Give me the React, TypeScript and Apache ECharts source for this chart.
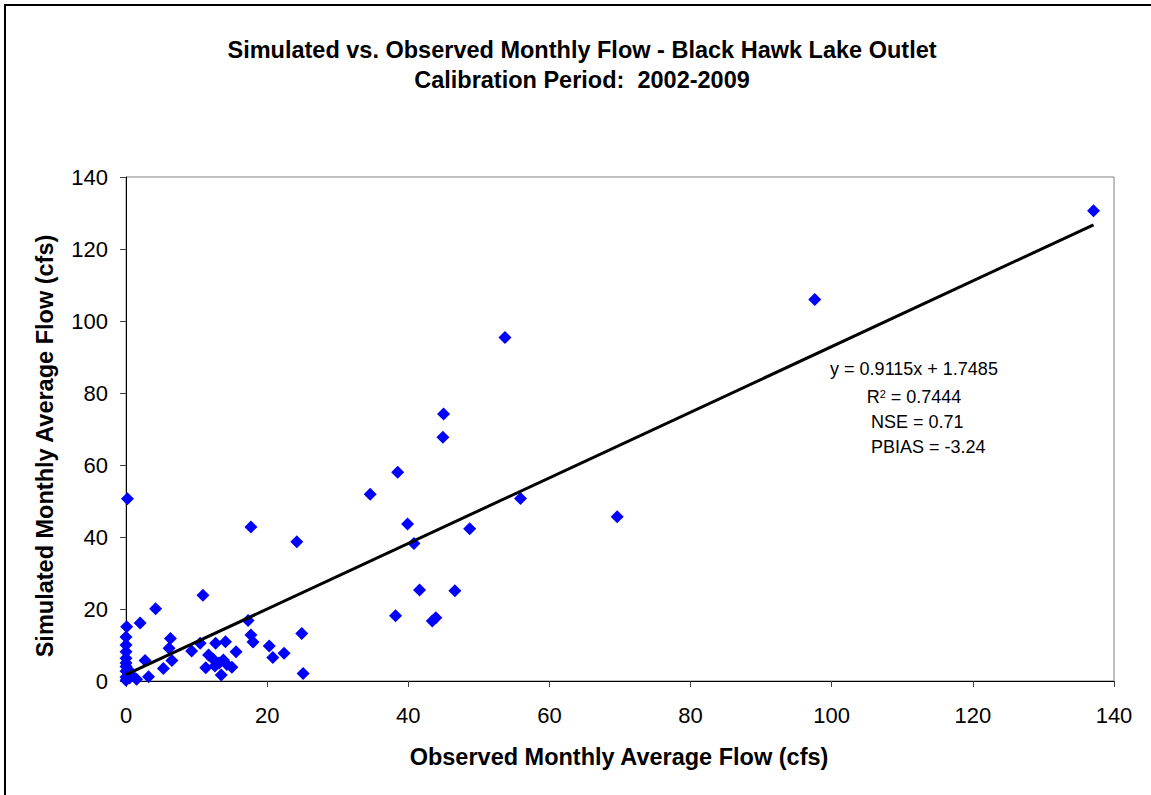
import React, { useEffect, useRef } from "react";
import * as echarts from "echarts";

const observed = [
  137.1, 97.6, 53.7, 45.0, 44.9, 38.5, 34.6, 55.9, 69.6, 39.9, 48.7, 40.8, 41.6, 46.6, 38.2, 43.9, 43.4,
  24.2, 24.9, 25.1, 0.2, 17.7, 10.9, 4.2, 2.0, 0.1, 17.3, 17.7, 18.0, 20.3, 20.8, 22.4, 6.3, 6.1, 6.5,
  5.3, 2.7, 3.2, 1.5, 0.8, 9.3, 10.5, 12.7, 14.1, 15.6, 11.7, 12.4, 13.2, 13.8, 12.6, 14.3, 11.3, 15.0,
  13.5, 0, 0, 0, 0, 0, 0, 0, 0, 0, 0.3, 0.5,
];
const simulated = [
  130.6, 106.0, 95.4, 74.2, 67.7, 58.0, 51.9, 50.7, 45.6, 43.6, 42.3, 38.2, 25.3, 25.1, 18.1, 17.6, 16.7,
  38.7, 13.2, 2.1, 50.6, 42.8, 23.8, 20.1, 16.1, 15.1, 16.8, 12.8, 10.8, 9.7, 6.5, 7.7, 11.8, 9.1, 5.7,
  3.5, 5.7, 1.2, 0.5, 1.7, 8.3, 10.5, 10.5, 10.9, 8.1, 7.2, 6.0, 5.0, 5.8, 4.2, 4.6, 3.7, 3.8,
  1.7, 12.2, 10.0, 8.1, 6.3, 5.0, 4.0, 2.7, 1.1, 0.2, 3.2, 0.8,
];

const trendSlope = 0.9115;
const trendIntercept = 1.7485;
const trendXRange = [0, 137.1];

const titleLines = [
  "Simulated vs. Observed Monthly Flow - Black Hawk Lake Outlet",
  "Calibration Period:  2002-2009",
];
const xTitle = "Observed Monthly Average Flow (cfs)";
const yTitle = "Simulated Monthly Average Flow (cfs)";
const statsLines = ["y = 0.9115x + 1.7485", "R2 = 0.7444", "NSE = 0.71", "PBIAS = -3.24"];

const FONT = 'Arial, "Liberation Sans", sans-serif';
const TITLE_FONT = `bold 23.5px ${FONT}`;

export default function App() {
  const ref = useRef<HTMLDivElement>(null);
  useEffect(() => {
    if (!ref.current) return;
    const chart = echarts.init(ref.current, null, { renderer: "svg" });
    const points = observed.map((x, i) => [x, simulated[i]]);
    const trend = trendXRange.map((x) => [x, trendSlope * x + trendIntercept]);
    const axisCommon = {
      type: "value" as const,
      min: 0,
      max: 140,
      interval: 20,
      splitLine: { show: false },
      axisLine: { show: true, lineStyle: { color: "#000", width: 1 } },
      axisTick: { show: true, length: 6, lineStyle: { color: "#404040" } },
    };
    chart.setOption({
      animation: false,
      backgroundColor: "#fff",
      grid: {
        left: 126,
        right: 37,
        top: 177,
        bottom: 114,
        show: true,
        borderColor: "#808080",
        borderWidth: 1,
        backgroundColor: "transparent",
      },
      xAxis: {
        ...axisCommon,
        axisLabel: { fontSize: 22, color: "#000", fontFamily: FONT, margin: 23 },
      },
      yAxis: {
        ...axisCommon,
        axisLabel: { fontSize: 22, color: "#000", fontFamily: FONT, margin: 18 },
      },
      series: [
        {
          type: "scatter",
          data: points,
          symbol: "diamond",
          symbolSize: 13,
          itemStyle: { color: "#0000FF", opacity: 1 },
          z: 2,
        },
        {
          type: "line",
          data: trend,
          symbol: "none",
          lineStyle: { color: "#000", width: 3 },
          z: 3,
        },
      ],
      graphic: [
        {
          type: "rect",
          shape: { x: 5, y: 5, width: 1160, height: 800 },
          style: { fill: "none", stroke: "#000", lineWidth: 2 },
          silent: true,
        },
        {
          type: "text",
          x: 582,
          y: 50,
          style: {
            text: titleLines[0],
            font: TITLE_FONT,
            fill: "#000",
            textAlign: "center",
            textVerticalAlign: "middle",
          },
        },
        {
          type: "text",
          x: 582,
          y: 80,
          style: {
            text: titleLines[1],
            font: TITLE_FONT,
            fill: "#000",
            textAlign: "center",
            textVerticalAlign: "middle",
          },
        },
        {
          type: "text",
          x: 619,
          y: 757,
          style: {
            text: xTitle,
            font: TITLE_FONT,
            fill: "#000",
            textAlign: "center",
            textVerticalAlign: "middle",
          },
        },
        {
          type: "text",
          x: 45,
          y: 446,
          rotation: Math.PI / 2,
          style: {
            text: yTitle,
            font: TITLE_FONT,
            fill: "#000",
            textAlign: "center",
            textVerticalAlign: "middle",
          },
        },
        {
          type: "text",
          x: 914,
          y: 369,
          style: {
            text: statsLines[0],
            font: `18px ${FONT}`,
            fill: "#000",
            textAlign: "center",
            textVerticalAlign: "middle",
          },
        },
        {
          type: "text",
          x: 914,
          y: 397,
          style: {
            text: "{a|R}{s|2}{a| = 0.7444}",
            font: `18px ${FONT}`,
            fill: "#000",
            textAlign: "center",
            textVerticalAlign: "middle",
            rich: {
              a: { fontSize: 18, fontFamily: FONT, fill: "#000", color: "#000" },
              s: { fontSize: 11, fontFamily: FONT, color: "#000", verticalAlign: "top", padding: [0, 0, 6, 0] },
            },
          },
        },
        {
          type: "text",
          x: 871,
          y: 422,
          style: {
            text: statsLines[2],
            font: `18px ${FONT}`,
            fill: "#000",
            textAlign: "left",
            textVerticalAlign: "middle",
          },
        },
        {
          type: "text",
          x: 871,
          y: 447,
          style: {
            text: statsLines[3],
            font: `18px ${FONT}`,
            fill: "#000",
            textAlign: "left",
            textVerticalAlign: "middle",
          },
        },
      ],
    });
    return () => chart.dispose();
  }, []);
  return (
    <div
      ref={ref}
      style={{ position: "fixed", left: 0, top: 0, width: 1151, height: 795, background: "#fff" }}
    />
  );
}
